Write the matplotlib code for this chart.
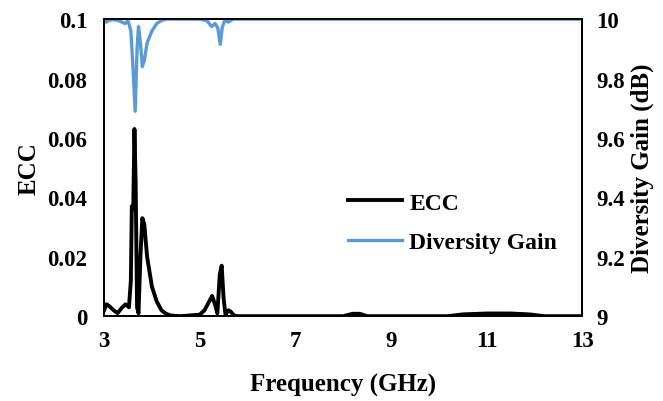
import matplotlib
matplotlib.use("Agg")
import matplotlib.pyplot as plt

plt.rcParams['font.family'] = ['Liberation Serif', 'DejaVu Serif']
plt.rcParams['font.weight'] = 'bold'

freq_ecc = [3.0, 3.05, 3.1, 3.2, 3.28, 3.38, 3.45, 3.52, 3.56, 3.58, 3.61, 3.635, 3.66, 3.69, 3.72, 3.76,
            3.8, 3.84, 3.9, 4.0, 4.1, 4.2, 4.3, 4.4, 4.6, 5.0, 5.1, 5.2, 5.26, 5.32, 5.37, 5.42, 5.46,
            5.5, 5.54, 5.6, 5.65, 5.72, 5.8, 6.5, 8.0, 8.2, 8.35, 8.5, 10.2, 10.5, 11.0, 11.5, 11.9, 12.2, 13.0]
ecc = [0.002, 0.004, 0.0035, 0.002, 0.001, 0.003, 0.004, 0.003, 0.012, 0.037, 0.036, 0.063, 0.045, 0.003,
       0.001, 0.02, 0.033, 0.031, 0.02, 0.01, 0.005, 0.002, 0.0008, 0.0002, 0.0, 0.0005, 0.002, 0.005,
       0.0068, 0.004, 0.001, 0.014, 0.017, 0.006, 0.0005, 0.002, 0.0015, 0.0002, 0.0, 0.0, 0.0, 0.0008,
       0.0008, 0.0, 0.0, 0.0006, 0.0009, 0.0009, 0.0006, 0.0, 0.0]

freq_dg = [3.0, 3.05, 3.1, 3.2, 3.3, 3.44, 3.5, 3.56, 3.6, 3.65, 3.69, 3.72, 3.76, 3.8, 3.84, 3.9, 4.0,
           4.1, 4.2, 4.3, 5.0, 5.15, 5.25, 5.32, 5.38, 5.43, 5.47, 5.52, 5.6, 5.7, 13.0]
dg = [9.995, 9.99, 9.996, 9.998, 9.995, 9.985, 9.995, 9.96, 9.85, 9.69, 9.9, 9.975, 9.92, 9.84, 9.86,
      9.92, 9.96, 9.985, 9.995, 10.0, 10.0, 9.995, 9.975, 9.985, 9.97, 9.915, 9.97, 9.995, 9.99, 10.0, 10.0]

x_ticks = [3, 5, 7, 9, 11, 13]
ecc_ticks = [0, 0.02, 0.04, 0.06, 0.08, 0.1]
ecc_labels = ['0', '0.02', '0.04', '0.06', '0.08', '0.1']
dg_ticks = [9, 9.2, 9.4, 9.6, 9.8, 10]
dg_labels = ['9', '9.2', '9.4', '9.6', '9.8', '10']

fig = plt.figure(figsize=(6.63, 4.02), dpi=100)
ax = fig.add_axes([0.157, 0.211, 0.721, 0.739])
ax2 = ax.twinx()

l1, = ax.plot(freq_ecc, ecc, color='black', lw=2.8, label='ECC')
l2, = ax2.plot(freq_dg, dg, color='#5B9BD5', lw=2.4, label='Diversity Gain')

ax.set_xlim(3, 13)
ax.set_ylim(0, 0.1)
ax2.set_ylim(9, 10)
ax.set_xticks(x_ticks)
ax.set_xticklabels([str(t) for t in x_ticks])
ax.set_yticks(ecc_ticks)
ax.set_yticklabels(ecc_labels)
ax2.set_yticks(dg_ticks)
ax2.set_yticklabels(dg_labels)

for a in (ax, ax2):
    a.tick_params(length=0, labelsize=16.5)
    for s in a.spines.values():
        s.set_linewidth(1.3)
        s.set_color('black')
ax.tick_params(axis='x', pad=10)
ax.tick_params(axis='y', pad=12)
ax2.tick_params(axis='y', pad=10)

ax.set_xlabel('Frequency (GHz)', fontsize=18, fontweight='bold', labelpad=16)
ax.set_ylabel('ECC', fontsize=18, fontweight='bold', labelpad=5)
ax2.set_ylabel('Diversity Gain (dB)', fontsize=18, fontweight='bold', labelpad=4)

leg = ax2.legend([l1, l2], ['ECC', 'Diversity Gain'], loc='upper left',
                 bbox_to_anchor=(348 / 663, 1 - 193 / 402), bbox_transform=fig.transFigure,
                 frameon=False, fontsize=17, borderpad=0, borderaxespad=0,
                 handlelength=2.3, labelspacing=0.75, handletextpad=0.3)

fig.savefig('out.png', dpi=100)
